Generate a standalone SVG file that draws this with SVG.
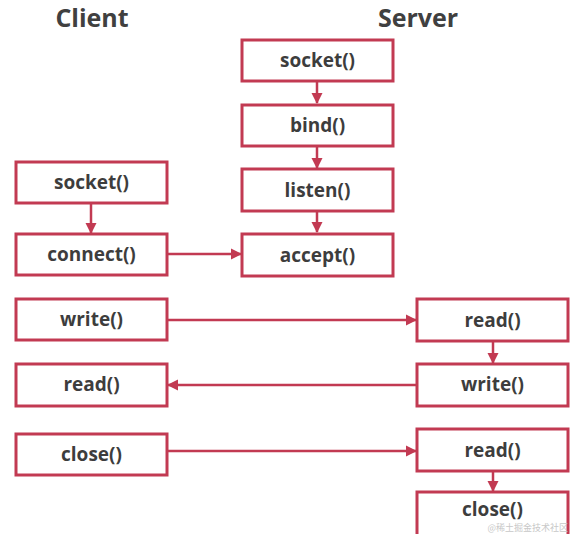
<svg xmlns="http://www.w3.org/2000/svg" width="575" height="534" viewBox="0 0 575 534">
<defs>
<marker id="ah" markerWidth="12" markerHeight="12" refX="10" refY="6" orient="auto" markerUnits="userSpaceOnUse">
<path d="M0,0.5 L11,6 L0,11.5 Z" fill="#c23a52"/>
</marker>
<style>
.box{fill:#fff;stroke:#c23a52;stroke-width:3}
.lbl{font-family:"Open Sans","Noto Sans","Liberation Sans",sans-serif;font-weight:bold;font-size:19px;fill:#3d3d3d;text-anchor:middle}
.ttl{font-family:"Open Sans","Noto Sans","Liberation Sans",sans-serif;font-weight:bold;font-size:25px;fill:#404040;text-anchor:middle}
.ln{stroke:#c23a52;stroke-width:2.5;fill:none;marker-end:url(#ah)}
</style>
</defs>
<rect width="575" height="534" fill="#fff"/>
<text class="ttl" x="92" y="27">Client</text>
<text class="ttl" x="418" y="27">Server</text>
<g id="connectors">
<line class="ln" x1="317" y1="81" x2="317" y2="103"/>
<line class="ln" x1="317" y1="146" x2="317" y2="168"/>
<line class="ln" x1="317" y1="211" x2="317" y2="232"/>
<line class="ln" x1="91" y1="203" x2="91" y2="233"/>
<line class="ln" x1="167" y1="254" x2="241" y2="254"/>
<line class="ln" x1="167" y1="320" x2="416" y2="320"/>
<line class="ln" x1="493" y1="341" x2="493" y2="363"/>
<line class="ln" x1="417" y1="385" x2="168" y2="385"/>
<line class="ln" x1="167" y1="451" x2="416" y2="451"/>
<line class="ln" x1="493" y1="471" x2="493" y2="491"/>
</g>
<g id="s-socket"><rect class="box" x="242" y="40" width="151" height="41"/><text class="lbl" x="317.5" y="67">socket()</text></g>
<g id="s-bind"><rect class="box" x="242" y="105" width="151" height="41"/><text class="lbl" x="317.5" y="132">bind()</text></g>
<g id="s-listen"><rect class="box" x="242" y="169" width="151" height="42"/><text class="lbl" x="317.5" y="197">listen()</text></g>
<g id="s-accept"><rect class="box" x="242" y="234" width="151" height="42"/><text class="lbl" x="317.5" y="262">accept()</text></g>
<g id="c-socket"><rect class="box" x="16" y="162" width="151" height="41"/><text class="lbl" x="91.5" y="189">socket()</text></g>
<g id="c-connect"><rect class="box" x="16" y="234" width="151" height="41"/><text class="lbl" x="91.5" y="261">connect()</text></g>
<g id="c-write"><rect class="box" x="16" y="299" width="151" height="41"/><text class="lbl" x="91.5" y="326">write()</text></g>
<g id="c-read"><rect class="box" x="16" y="364" width="151" height="42"/><text class="lbl" x="91.5" y="391">read()</text></g>
<g id="c-close"><rect class="box" x="16" y="434" width="151" height="41"/><text class="lbl" x="91.5" y="461">close()</text></g>
<g id="s-read1"><rect class="box" x="417" y="299" width="151" height="42"/><text class="lbl" x="492.5" y="327">read()</text></g>
<g id="s-write"><rect class="box" x="417" y="364" width="151" height="42"/><text class="lbl" x="492.5" y="391">write()</text></g>
<g id="s-read2"><rect class="box" x="417" y="429" width="151" height="42"/><text class="lbl" x="492.5" y="457">read()</text></g>
<g id="s-close"><rect class="box" x="417" y="492" width="151" height="44"/><text class="lbl" x="492.5" y="516">close()</text></g>
<text x="568" y="531" font-family="'Noto Sans CJK SC',sans-serif" font-size="9" fill="#c8c8c8" text-anchor="end">@稀土掘金技术社区</text>
</svg>
